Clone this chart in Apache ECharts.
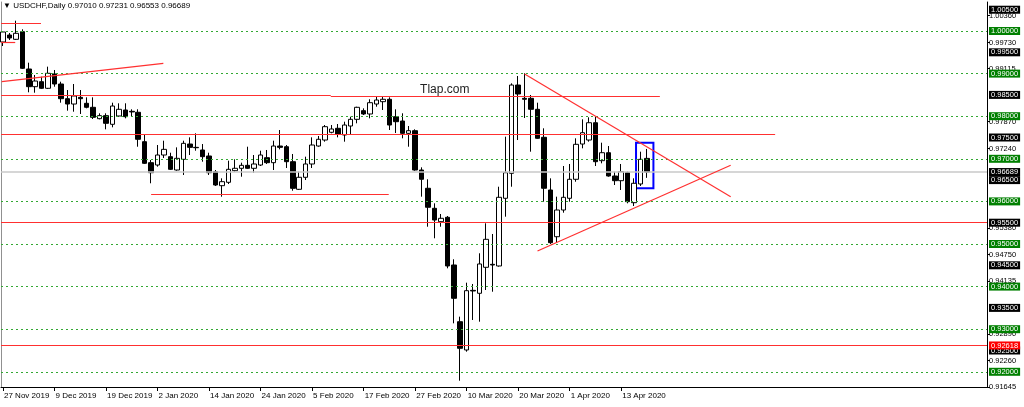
<!DOCTYPE html>
<html><head><meta charset="utf-8">
<script src="https://cdn.jsdelivr.net/npm/echarts@6/dist/echarts.min.js"></script>
<style>html,body{margin:0;padding:0;background:#fff}#c{width:1024px;height:407px}</style>
</head><body><div id="c"></div>
<script>
// ---------- data ----------
const symbolName = 'USDCHF,Daily';
const dates = [
 '2019-11-27','2019-11-28','2019-11-29',
 '2019-12-02','2019-12-03','2019-12-04','2019-12-05','2019-12-06',
 '2019-12-09','2019-12-10','2019-12-11','2019-12-12','2019-12-13',
 '2019-12-16','2019-12-17','2019-12-18','2019-12-19','2019-12-20',
 '2019-12-23','2019-12-24','2019-12-26','2019-12-27','2019-12-30','2019-12-31',
 '2020-01-02','2020-01-03',
 '2020-01-06','2020-01-07','2020-01-08','2020-01-09','2020-01-10',
 '2020-01-13','2020-01-14','2020-01-15','2020-01-16','2020-01-17',
 '2020-01-20','2020-01-21','2020-01-22','2020-01-23','2020-01-24',
 '2020-01-27','2020-01-28','2020-01-29','2020-01-30','2020-01-31',
 '2020-02-03','2020-02-04','2020-02-05','2020-02-06','2020-02-07',
 '2020-02-10','2020-02-11','2020-02-12','2020-02-13','2020-02-14',
 '2020-02-17','2020-02-18','2020-02-19','2020-02-20','2020-02-21',
 '2020-02-24','2020-02-25','2020-02-26','2020-02-27','2020-02-28',
 '2020-03-02','2020-03-03','2020-03-04','2020-03-05','2020-03-06',
 '2020-03-09','2020-03-10','2020-03-11','2020-03-12','2020-03-13',
 '2020-03-16','2020-03-17','2020-03-18','2020-03-19','2020-03-20',
 '2020-03-23','2020-03-24','2020-03-25','2020-03-26','2020-03-27',
 '2020-03-30','2020-03-31','2020-04-01','2020-04-02','2020-04-03',
 '2020-04-06','2020-04-07','2020-04-08','2020-04-09','2020-04-10',
 '2020-04-13','2020-04-14','2020-04-15','2020-04-16','2020-04-17'
];
const opens = [
 0.99742,0.99906,0.99805,0.99984,0.99108,0.98693,0.98810,0.98655,0.98991,0.98756,
 0.98411,0.98286,0.98443,0.98303,0.98209,0.97942,0.98013,0.97810,0.98005,0.98146,
 0.98115,0.98092,0.97402,0.96909,0.96854,0.97089,0.97050,0.96737,0.96988,0.97347,
 0.97269,0.97207,0.97066,0.96697,0.96369,0.96448,0.96721,0.96777,0.96847,0.96777,
 0.96854,0.97026,0.96909,0.97300,0.97284,0.96932,0.96284,0.96566,0.96878,0.97300,
 0.97441,0.97622,0.97716,0.97559,0.97770,0.97927,0.98130,0.98052,0.98286,0.98341,
 0.98397,0.97988,0.97887,0.97598,0.97660,0.96737,0.96308,0.95838,0.95524,0.95627,
 0.94507,0.93176,0.92512,0.93912,0.93843,0.94453,0.94523,0.94484,0.96073,0.96660,
 0.98732,0.98420,0.98420,0.98162,0.97505,0.96268,0.95171,0.95798,0.96073,0.96519,
 0.97347,0.97441,0.97847,0.96956,0.97143,0.96596,0.96486,0.96674,0.95970,0.96409,
 0.97010
];
const highs = [
 1.00000,0.99953,1.00242,1.00040,0.99256,0.98967,0.98927,0.99163,0.99085,0.98810,
 0.98615,0.98756,0.98615,0.98443,0.98443,0.98068,0.98068,0.98317,0.98303,0.98303,
 0.98162,0.98162,0.97582,0.96972,0.97324,0.97425,0.97143,0.97269,0.97425,0.97504,
 0.97598,0.97347,0.97143,0.96737,0.96542,0.96956,0.96988,0.96909,0.97284,0.97089,
 0.97190,0.97207,0.97425,0.97676,0.97324,0.97113,0.96697,0.97050,0.97504,0.97535,
 0.97793,0.97793,0.97817,0.97871,0.97988,0.98223,0.98185,0.98397,0.98458,0.98458,
 0.98443,0.98162,0.98068,0.97770,0.97692,0.96800,0.96519,0.95955,0.95704,0.95657,
 0.94641,0.93294,0.94092,0.94061,0.94782,0.95486,0.95235,0.96345,0.97519,0.98772,
 0.98944,0.99007,0.98498,0.98317,0.97716,0.96542,0.96111,0.96831,0.96878,0.97481,
 0.97927,0.97974,0.97988,0.97378,0.97300,0.96697,0.96878,0.96697,0.96542,0.97167,
 0.97231
];
const lows = [
 0.99648,0.99789,0.99789,0.99108,0.98561,0.98552,0.98638,0.98638,0.98692,0.98317,
 0.98130,0.98106,0.98052,0.98185,0.97934,0.97927,0.97692,0.97739,0.97989,0.97950,
 0.97989,0.97284,0.96878,0.96425,0.96815,0.97019,0.96737,0.96721,0.96620,0.97089,
 0.97190,0.96932,0.96620,0.96362,0.96111,0.96408,0.96697,0.96580,0.96761,0.96674,
 0.96831,0.96878,0.96737,0.97222,0.96784,0.96251,0.96268,0.96502,0.96784,0.97284,
 0.97402,0.97598,0.97504,0.97402,0.97582,0.97833,0.98028,0.97950,0.98223,0.98146,
 0.97676,0.97606,0.97481,0.97284,0.96721,0.96111,0.95406,0.95134,0.95406,0.94429,
 0.93138,0.91791,0.92472,0.93216,0.93176,0.93920,0.93880,0.94468,0.95641,0.96345,
 0.97441,0.97958,0.97167,0.97470,0.95993,0.95000,0.95031,0.95735,0.95993,0.96462,
 0.97246,0.97402,0.96831,0.96894,0.96580,0.96385,0.96268,0.95955,0.95892,0.96362,
 0.96553
];
const closes = [
 0.99977,0.99836,0.99946,0.99124,0.98693,0.98826,0.98655,0.99007,0.98756,0.98411,
 0.98286,0.98474,0.98411,0.98209,0.97974,0.98013,0.97833,0.98239,0.98162,0.97989,
 0.98100,0.97458,0.96894,0.96674,0.97089,0.97222,0.96753,0.97011,0.97363,0.97269,
 0.97260,0.97050,0.96674,0.96385,0.96463,0.96753,0.96777,0.96847,0.96777,0.96878,
 0.97089,0.96909,0.97300,0.97269,0.96932,0.96307,0.96566,0.96878,0.97324,0.97458,
 0.97754,0.97700,0.97582,0.97793,0.97927,0.98209,0.98052,0.98317,0.98380,0.98397,
 0.97793,0.97871,0.97598,0.97660,0.96737,0.96519,0.95862,0.95563,0.95603,0.94484,
 0.93725,0.92551,0.93904,0.93897,0.94531,0.95110,0.94507,0.96096,0.96674,0.98732,
 0.98521,0.98397,0.98162,0.97481,0.96308,0.95031,0.95798,0.96096,0.96519,0.97340,
 0.97613,0.97847,0.96932,0.97143,0.96596,0.96486,0.96697,0.95993,0.96425,0.96988,
 0.96689
];
// x-axis date ticks (bar indices) and right-axis tick labels
const dateTickBars = [0, 8, 16, 24, 32, 40, 48, 56, 64, 72, 80, 88, 96];
const priceTicks = [1.00360, 0.99730, 0.99115, 0.97870, 0.97240, 0.95380, 0.94750, 0.94135, 0.92890, 0.92260, 0.91645];
const greenLevels = [1.00, 0.99, 0.98, 0.97, 0.96, 0.95, 0.94, 0.93, 0.92];
const blackLevels = [1.005, 0.995, 0.985, 0.975, 0.965, 0.955, 0.945, 0.935, 0.925];
const bidPrice = 0.96689;
const redFullLevels = [0.95510, 0.92618];
const redLabelLevel = 0.92618;
// red segments: [barFrom, priceFrom, barTo, priceTo]
const redSegments = [
 [-0.3, 1.00181, 5.9, 1.00181],
 [-0.3, 0.99742, 1.9, 0.99742],
 [-0.2, 0.98810, 24.9, 0.99242],
 [-0.3, 0.98490, 50.9, 0.98490],
 [50.9, 0.98474, 102.0, 0.98474],
 [-0.3, 0.97582, 119.9, 0.97582],
 [23.0, 0.96166, 59.9, 0.96166],
 [81.0, 0.98991, 113.0, 0.96111],
 [83.0, 0.94836, 113.0, 0.96847]
];
const boxBars = [98.3, 101.0];
const boxPrices = [0.97378, 0.96308];
const watermark = { text: 'Tlap.com', bar: 68.6, price: 0.98627 };

// ---------- chart ----------
const MON = ['Jan','Feb','Mar','Apr','May','Jun','Jul','Aug','Sep','Oct','Nov','Dec'];
function fmtDate(s) { const p = s.split('-'); return (+p[2]) + ' ' + MON[+p[1]-1] + ' ' + p[0]; }
const FONT = 'Liberation Sans';
const last = dates.length - 1;
const header = '\u25BC ' + symbolName + ' ' + [opens[last], highs[last], lows[last], closes[last]].map(v => v.toFixed(5)).join(' ');

const candleData = dates.map((d, i) => [i, opens[i], closes[i], lows[i], highs[i]]);

const boxLabel = (bg) => ({
  show: true, position: 'end', distance: 2, color: '#fff', backgroundColor: bg,
  padding: [0, 2], fontSize: 7.5, lineHeight: 8, fontFamily: FONT,
  formatter: p => (+p.value).toFixed(5)
});
const RED = '#ff3030';
const mlData = [];
greenLevels.forEach(v => mlData.push({ yAxis: v, lineStyle: { color: '#33a833', type: [2, 3], width: 1 }, label: boxLabel('#008000') }));
blackLevels.forEach(v => mlData.push({ yAxis: v, lineStyle: { color: 'rgba(0,0,0,0)', width: 0 }, label: boxLabel('#000') }));
mlData.push({ yAxis: bidPrice, lineStyle: { color: '#c8c8c8', type: 'solid', width: 1.5 }, label: boxLabel('#000') });
redFullLevels.forEach(v => mlData.push({ yAxis: v, lineStyle: { color: RED, type: 'solid', width: 1.2 },
  label: v === redLabelLevel ? boxLabel('#ff0000') : { show: false } }));
redSegments.forEach(s => mlData.push([
  { coord: [s[0], s[1]], lineStyle: { color: RED, type: 'solid', width: 1.2 }, label: { show: false } },
  { coord: [s[2], s[3]] }
]));

const X0 = -0.31, X1 = 152.8;
const option = {
  animation: false,
  backgroundColor: '#fff',
  textStyle: { fontFamily: FONT },
  title: { text: header, left: 3, top: 2, padding: 0,
    textStyle: { fontSize: 8, fontWeight: 'normal', color: '#000', fontFamily: FONT } },
  grid: { left: 1, top: 2, width: 986, height: 385 },
  xAxis: {
    type: 'value', min: X0, max: X1,
    axisLine: { show: true, onZero: false, lineStyle: { color: '#000', width: 1 } },
    axisTick: { show: true, customValues: dateTickBars, length: 4, lineStyle: { color: '#000' } },
    axisLabel: { customValues: dateTickBars, formatter: v => fmtDate(dates[Math.round(v)]),
      align: 'left', margin: 5, fontSize: 8, color: '#000', fontFamily: FONT, padding: [0, 0, 0, 1] },
    splitLine: { show: false }
  },
  yAxis: [{
    type: 'value', position: 'right', min: 0.91643, max: 1.00681,
    axisLine: { show: true, onZero: false, lineStyle: { color: '#000', width: 1 } },
    axisTick: { show: true, customValues: priceTicks, length: 3, lineStyle: { color: '#000' } },
    axisLabel: { customValues: priceTicks, formatter: v => v.toFixed(5), margin: 2,
      fontSize: 7.5, color: '#000', fontFamily: FONT },
    splitLine: { show: false }
  }, {
    type: 'value', position: 'left', min: 0.91643, max: 1.00681,
    axisLine: { show: true, onZero: false, lineStyle: { color: '#909090', width: 1 } },
    axisTick: { show: false }, axisLabel: { show: false }, splitLine: { show: false }
  }],
  series: [{
    type: 'line', data: [], z: 1, silent: true,
    markLine: { silent: true, precision: 5, symbol: ['none', 'none'], animation: false, data: mlData },
    markArea: { silent: true, data: [[
      { coord: [boxBars[0], boxPrices[0]], itemStyle: { color: 'rgba(0,0,0,0)', borderColor: '#0000ff', borderWidth: 2 } },
      { coord: [boxBars[1], boxPrices[1]] }
    ]] },
    markPoint: { silent: true, data: [{ coord: [watermark.bar, watermark.price], symbol: 'rect', symbolSize: 1,
      itemStyle: { color: 'rgba(0,0,0,0)' },
      label: { show: true, position: 'inside', formatter: watermark.text, color: '#222', fontSize: 12, fontFamily: FONT } }] }
  }, {
    type: 'candlestick', z: 2, barWidth: 5,
    data: candleData,
    itemStyle: { color: '#fff', color0: '#000', borderColor: '#000', borderColor0: '#000', borderWidth: 1 }
  }]
};
const chart = echarts.init(document.getElementById('c'), null, { renderer: 'canvas' });
chart.setOption(option);
</script>
</body></html>
